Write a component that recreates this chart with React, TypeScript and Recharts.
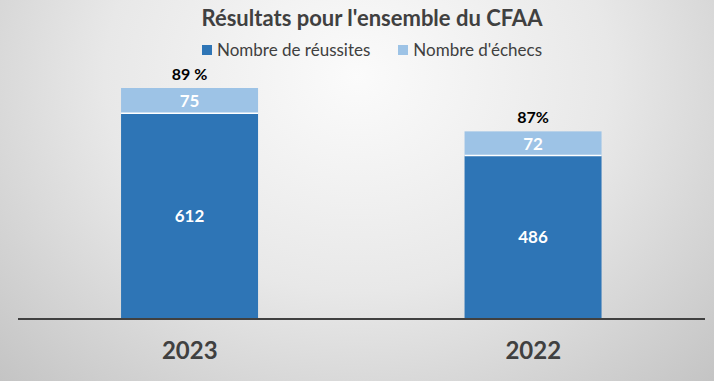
import { Bar, BarChart, LabelList, XAxis, YAxis } from "recharts"

const years = ["2023", "2022"]
const successes = [612, 486]
const failures = [75, 72]
const rateLabels = ["89 %", "87%"]

const data = years.map((year, i) => ({
  year,
  success: successes[i],
  fail: failures[i],
  rate: rateLabels[i],
}))

const FONT = "Lato, 'Open Sans', sans-serif"
const DARK = "#2E75B6"
const LIGHT = "#9DC3E6"

const RateLabel = (props: any) => {
  const { x, y, width, index } = props
  return (
    <text
      x={x + width / 2}
      y={y - 8}
      textAnchor="middle"
      fontFamily={FONT}
      fontSize={16}
      fontWeight={700}
      fill="#000"
    >
      {rateLabels[index]}
    </text>
  )
}

// light segment with a thin white separator along its bottom edge
const FailShape = (props: any) => {
  const { x, y, width, height, fill } = props
  return (
    <g>
      <rect x={x} y={y} width={width} height={height} fill={fill} />
      <line x1={x} x2={x + width} y1={y + height} y2={y + height} stroke="#fff" strokeWidth={1.5} />
    </g>
  )
}

export default function App() {
  return (
    <div
      style={{
        position: "absolute",
        left: 0,
        top: 0,
        width: 714,
        height: 381,
        fontFamily: FONT,
        background:
          "radial-gradient(ellipse at 50% 20%, #fbfbfb 0%, #e8e8e8 50%, #c4c4c4 100%)",
      }}
    >
      <div
        style={{
          position: "absolute",
          top: 4,
          left: 15,
          width: 714,
          textAlign: "center",
          fontSize: 22,
          fontWeight: 700,
          color: "#404040",
        }}
      >
        Résultats pour l'ensemble du CFAA
      </div>
      <div
        style={{
          position: "absolute",
          top: 39,
          left: 15,
          width: 714,
          display: "flex",
          justifyContent: "center",
          gap: 28,
          fontSize: 17,
          color: "#404040",
        }}
      >
        <span style={{ display: "flex", alignItems: "center" }}>
          <span style={{ width: 10, height: 10, background: DARK, marginRight: 5 }} />
          Nombre de réussites
        </span>
        <span style={{ display: "flex", alignItems: "center" }}>
          <span style={{ width: 10, height: 10, background: LIGHT, marginRight: 5 }} />
          Nombre d'échecs
        </span>
      </div>
      <BarChart
        width={714}
        height={381}
        data={data}
        margin={{ top: 50, right: 9, left: 18, bottom: 0 }}
        barCategoryGap="30%"
      >
        <XAxis
          dataKey="year"
          height={62}
          tickLine={false}
          axisLine={{ stroke: "#404040", strokeWidth: 2 }}
          tickMargin={17}
          tick={{ fontSize: 24, fontWeight: 700, fill: "#404040", fontFamily: FONT }}
        />
        <YAxis hide domain={[0, 800]} />
        <Bar dataKey="success" stackId="a" fill={DARK} isAnimationActive={false}>
          <LabelList
            dataKey="success"
            position="center"
            fill="#fff"
            fontSize={17}
            fontWeight={700}
            fontFamily={FONT}
          />
        </Bar>
        <Bar dataKey="fail" stackId="a" fill={LIGHT} shape={FailShape} isAnimationActive={false}>
          <LabelList
            dataKey="fail"
            position="center"
            fill="#fff"
            fontSize={17}
            fontWeight={700}
            fontFamily={FONT}
          />
          <LabelList dataKey="rate" content={RateLabel} />
        </Bar>
      </BarChart>
    </div>
  )
}
